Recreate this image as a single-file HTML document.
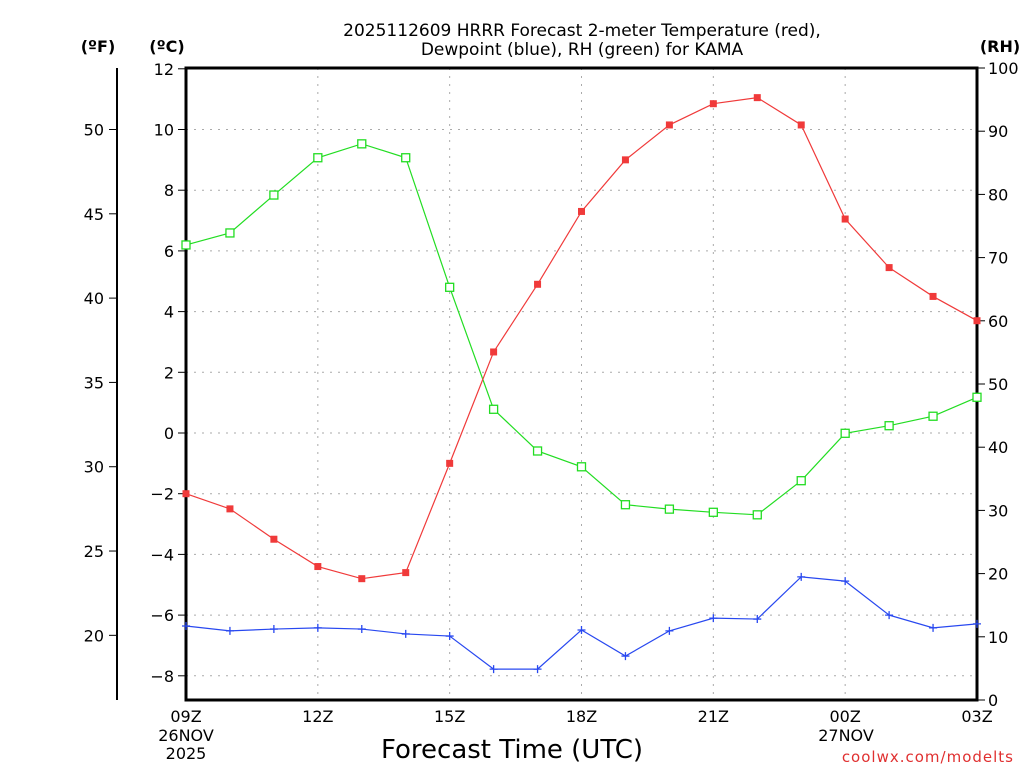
<!DOCTYPE html>
<html><head><meta charset="utf-8"><style>
body{margin:0;background:#fff;width:1024px;height:768px;overflow:hidden}
text{font-family:"DejaVu Sans","Liberation Sans",sans-serif}
</style></head><body>
<svg id="chart" width="1024" height="768" xmlns="http://www.w3.org/2000/svg">
<text x="582" y="36" font-size="17" text-anchor="middle">2025112609 HRRR Forecast 2-meter Temperature (red),</text>
<text x="582" y="55" font-size="17" text-anchor="middle">Dewpoint (blue), RH (green) for KAMA</text>
<text x="98" y="52" font-size="16" font-weight="bold" text-anchor="middle">(ºF)</text>
<text x="167" y="52" font-size="16" font-weight="bold" text-anchor="middle">(ºC)</text>
<text x="1000" y="52" font-size="16" font-weight="bold" text-anchor="middle">(RH)</text>
<text x="512" y="758" font-size="26" text-anchor="middle">Forecast Time (UTC)</text>
<text x="1014" y="762" font-size="15" fill="#e03030" text-anchor="end" letter-spacing="1">coolwx.com/modelts</text>
<g id="grid"></g><g id="axes"></g><g id="series"></g>
</svg>
<script>
const hours=[9,10,11,12,13,14,15,16,17,18,19,20,21,22,23,24,25,26,27];
const tempC=[-2.0,-2.5,-3.5,-4.4,-4.8,-4.6,-1.0,2.67,4.9,7.3,9.0,10.15,10.85,11.05,10.15,7.05,5.45,4.5,3.7];
const dewC=[-6.36,-6.52,-6.46,-6.42,-6.46,-6.62,-6.69,-7.78,-7.78,-6.49,-7.35,-6.52,-6.1,-6.13,-4.74,-4.88,-6.0,-6.42,-6.29];
const rh=[72,73.9,79.9,85.8,88,85.8,65.3,46,39.4,36.9,30.9,30.2,29.7,29.3,34.7,42.2,43.4,44.9,47.9];
const cTicks=[12,10,8,6,4,2,0,-2,-4,-6,-8];
const fTicks=[50,45,40,35,30,25,20];
const rhTicks=[0,10,20,30,40,50,60,70,80,90,100];
const xTickHours=[9,12,15,18,21,24,27];
const xTickLabels=["09Z","12Z","15Z","18Z","21Z","00Z","03Z"];
const NS="http://www.w3.org/2000/svg";
const L=186,R=977,T=68,B=700;
const x=h=>L+(h-9)*(R-L)/18;
const yC=c=>433-c*30.35;
const yF=f=>yC((f-32)*5/9);
const yR=r=>B-r*(B-T)/100;
function mk(tag,attrs,parent){const e=document.createElementNS(NS,tag);for(const k in attrs)e.setAttribute(k,attrs[k]);document.getElementById(parent).appendChild(e);return e;}
cTicks.forEach(c=>{
 const g=mk('line',{x1:L,x2:R,y1:yC(c),y2:yC(c),stroke:'#aaa','stroke-dasharray':'2 6'},'grid');
 
 
 const tk=mk('line',{x1:L-8,x2:L,y1:yC(c),y2:yC(c),stroke:'#000'},'axes');
 
 
 const t=mk('text',{x:L-12,y:yC(c)+6,'font-size':16,'text-anchor':'end'},'axes');t.textContent=c<0?'\u2212'+(-c):c;
 
 
});
xTickHours.forEach((h,i)=>{
 if(h>9&&h<27){const g=mk('line',{x1:x(h),x2:x(h),y1:T,y2:B,stroke:'#aaa','stroke-dasharray':'2 6'},'grid');
 
 }
 const t=mk('text',{x:x(h),y:722,'font-size':16,'text-anchor':'middle'},'axes');t.textContent=xTickLabels[i];
 
 
});
[[186,741,"26NOV"],[186,759,"2025"],[846,741,"27NOV"]].forEach(d=>{
 const t=mk('text',{x:d[0],y:d[1],'font-size':16,'text-anchor':'middle'},'axes');t.textContent=d[2];
 
 
});
const fl=mk('line',{x1:117,x2:117,y1:T,y2:B,stroke:'#000','stroke-width':2},'axes');


fTicks.forEach(f=>{
 const tk=mk('line',{x1:109,x2:117,y1:yF(f),y2:yF(f),stroke:'#000'},'axes');
 
 
 const t=mk('text',{x:104,y:yF(f)+6,'font-size':16,'text-anchor':'end'},'axes');t.textContent=f;
 
 
});
rhTicks.forEach(r=>{
 const tk=mk('line',{x1:R,x2:R+8,y1:yR(r),y2:yR(r),stroke:'#000'},'axes');
 
 
 const t=mk('text',{x:988,y:yR(r)+6,'font-size':16},'axes');t.textContent=r;
 
 
});
const fr=mk('rect',{x:L,y:T,width:R-L,height:B-T,fill:'none',stroke:'#000','stroke-width':3},'axes');


function series(vals,yf,color,name,marker){
 const pts=vals.map((v,i)=>x(hours[i])+','+yf(v)).join(' ');
 const pl=mk('polyline',{points:pts,fill:'none',stroke:color,'stroke-width':1.2},'series');
 
 
 vals.forEach((v,i)=>{
  const cx=x(hours[i]),cy=yf(v);let m;
  if(marker==='filled')m=mk('rect',{x:cx-3.5,y:cy-3.5,width:7,height:7,fill:color},'series');
  else if(marker==='open')m=mk('rect',{x:cx-4,y:cy-4,width:8,height:8,fill:'#fff',stroke:color,'stroke-width':1.3},'series');
  else m=mk('path',{d:`M${cx-4} ${cy}H${cx+4}M${cx} ${cy-4}V${cy+4}`,stroke:color,'stroke-width':1.3},'series');
  
  
 });
}
series(rh,yR,'#22dd22','rh','open');
series(tempC,yC,'#f03a3a','temperature','filled');
series(dewC,yC,'#2848f0','dewpoint','plus');
</script>
</body></html>
